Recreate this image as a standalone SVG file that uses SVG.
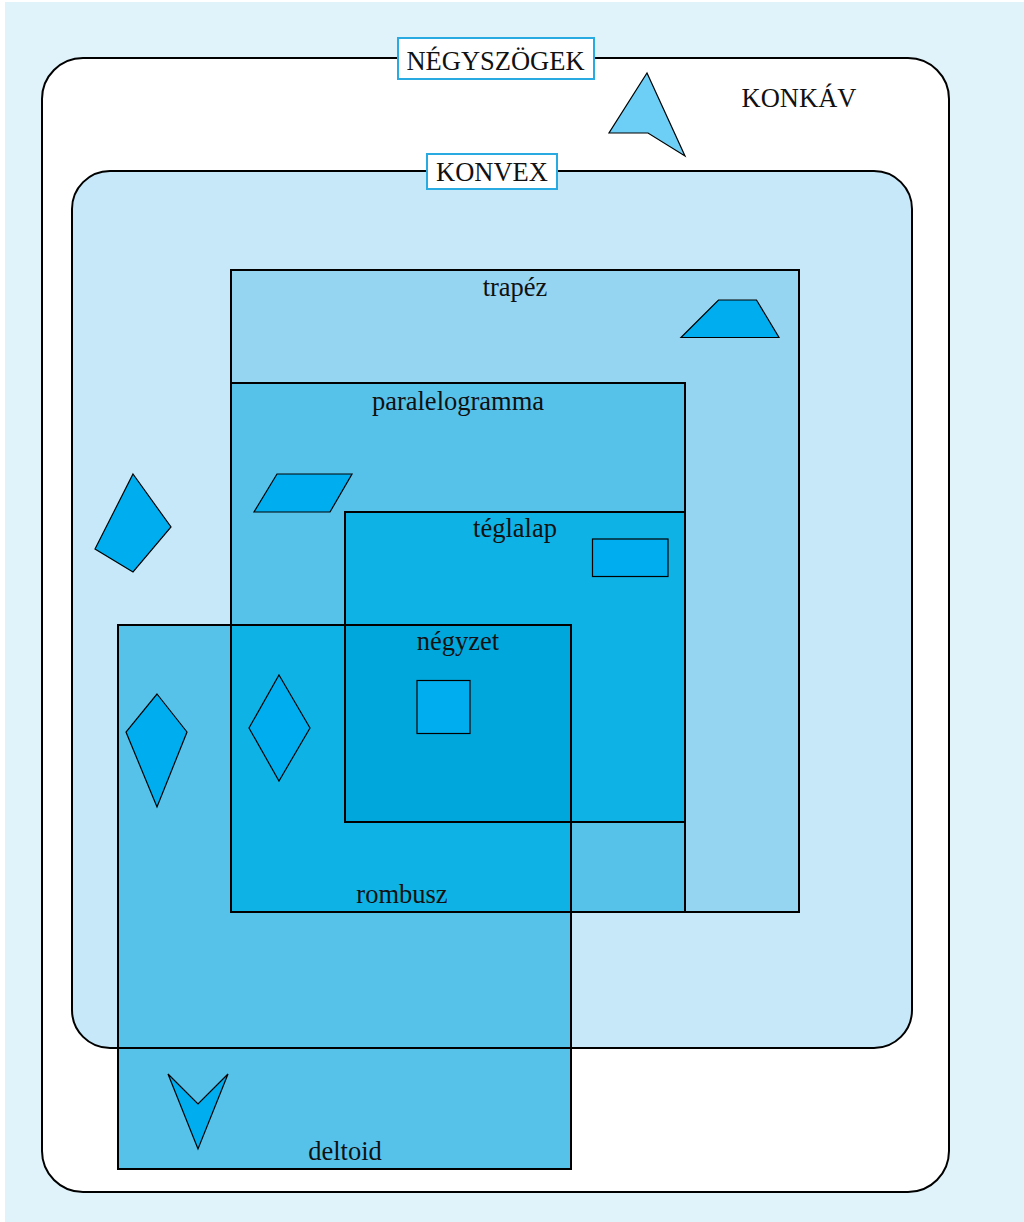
<svg xmlns="http://www.w3.org/2000/svg" width="1024" height="1222" viewBox="0 0 1024 1222">
<style>
text{font-family:"Liberation Serif","Times New Roman",serif;font-size:26.5px;fill:#111;text-anchor:middle}
.ol{fill:none;stroke:#000;stroke-width:2}
.sh{fill:#00aeef;stroke:#000;stroke-width:1.2;stroke-linejoin:miter}
.lb{fill:#fff;stroke:#29abe2;stroke-width:2}
</style>
<rect x="5" y="2" width="1019" height="1220" fill="#e0f3fa"/>
<g id="negyszogek">
<rect x="42" y="58" width="907" height="1134" rx="41" fill="#fff"/>
<polygon points="647,73 685,156 648,133 609,133" fill="#6dcff6" stroke="#000" stroke-width="1.2"/>
<text x="799" y="107">KONKÁV</text>
</g>
<g id="konvex">
<rect x="72" y="171" width="840" height="877" rx="38" fill="#c7e8f8"/>
<polygon class="sh" points="133,474 171,527 133,572 95,549"/>
</g>
<g id="trapez">
<rect x="231" y="270" width="568" height="642" fill="#96d5f1"/>
<polygon class="sh" points="718.5,300 756.5,300 779,337.5 681,337.5"/>
<text x="515" y="296">trapéz</text>
</g>
<g id="paralelogramma">
<rect x="231" y="383" width="454" height="529" fill="#56c2ea"/>
<polygon class="sh" points="277,474 352,474 330,512 254,512"/>
<text x="458" y="410">paralelogramma</text>
</g>
<g id="deltoid">
<rect x="118" y="625" width="453" height="544" fill="#56c2ea"/>
<polygon class="sh" points="157,694 187,732 157,807 126,732"/>
<polygon class="sh" points="168,1074 198,1104 228,1074 198,1149"/>
<text x="345" y="1160">deltoid</text>
</g>
<g id="teglalap">
<rect x="345" y="512" width="340" height="310" fill="#0fb2e4"/>
<rect class="sh" x="592.5" y="539" width="75.5" height="37.5"/>
<text x="515" y="537">téglalap</text>
</g>
<g id="rombusz">
<rect x="231" y="625" width="340" height="287" fill="#0fb2e4"/>
<polygon class="sh" points="279,675 310,728 279,781 249,728"/>
<text x="402" y="903">rombusz</text>
</g>
<g id="negyzet">
<rect x="345" y="625" width="226" height="197" fill="#00a7dd"/>
<rect class="sh" x="417" y="680.5" width="53" height="53"/>
<text x="458" y="650">négyzet</text>
</g>
<g id="outlines">
<rect class="ol" x="42" y="58" width="907" height="1134" rx="41"/>
<rect class="ol" x="72" y="171" width="840" height="877" rx="38"/>
<rect class="ol" x="231" y="270" width="568" height="642"/>
<rect class="ol" x="231" y="383" width="454" height="529"/>
<rect class="ol" x="345" y="512" width="340" height="310"/>
<rect class="ol" x="118" y="625" width="453" height="544"/>
<rect class="ol" x="345" y="625" width="226" height="197"/>
</g>
<g id="label-negyszogek">
<rect class="lb" x="398" y="38" width="196" height="41"/>
<text x="495.5" y="70">NÉGYSZÖGEK</text>
</g>
<g id="label-konvex">
<rect class="lb" x="427" y="154" width="130" height="35"/>
<text x="492" y="181">KONVEX</text>
</g>
</svg>
